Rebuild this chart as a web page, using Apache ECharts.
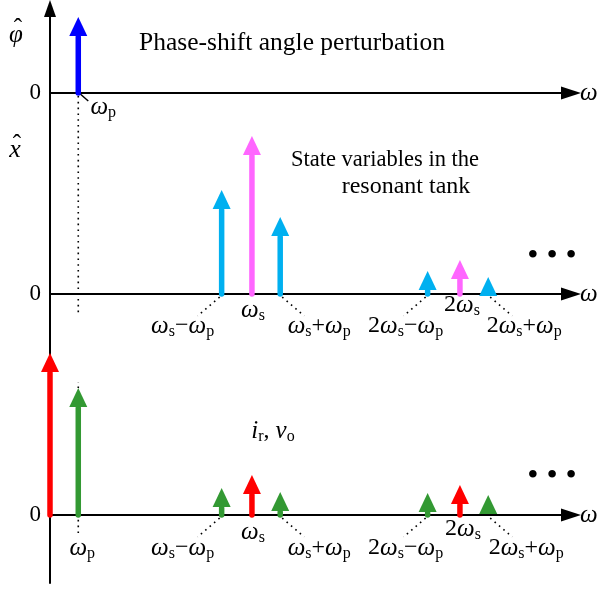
<!DOCTYPE html>
<html>
<head>
<meta charset="utf-8">
<script src="https://cdn.jsdelivr.net/npm/echarts@6/dist/echarts.min.js"></script>
<style>
html, body { margin: 0; padding: 0; background: #fff; }
#chart { width: 599px; height: 590px; }
</style>
</head>
<body>
<div id="chart"></div>
<script>
// spectral lines: x in units of the switching frequency, heights in arbitrary units
const phiFreq  = [0.14];
const phiAmp   = [7.6];
const phiKind  = ['phi'];
const phiLabel = ['ω_p'];

const tankFreq  = [0.85, 1.0, 1.14, 1.87, 2.03, 2.17];
const tankAmp   = [10.4, 15.8, 7.7, 2.3, 3.4, 1.7];
const tankKind  = ['side', 'main', 'side', 'side', 'main', 'side'];
const tankLabel = ['ω_s−ω_p', 'ω_s', 'ω_s+ω_p', '2ω_s−ω_p', '2ω_s', '2ω_s+ω_p'];

const outFreq  = [0, 0.14, 0.85, 1.0, 1.14, 1.87, 2.03, 2.17];
const outAmp   = [16.2, 12.7, 2.7, 4.0, 2.3, 2.2, 3.0, 2.0];
const outKind  = ['main', 'side', 'side', 'main', 'side', 'side', 'main', 'side'];
const outLabel = ['', 'ω_p', 'ω_s−ω_p', 'ω_s', 'ω_s+ω_p', '2ω_s−ω_p', '2ω_s', '2ω_s+ω_p'];

const SERIF = "'Liberation Serif', 'Times New Roman', serif";
const phiColors  = { phi: '#0000ff' };
const tankColors = { side: '#00b0f0', main: '#ff66ff' };
const outColors  = { main: '#ff0000', side: '#339933' };

// where each label sits relative to the foot of its line (px)
const phiPlace = [{ dx: 25, dy: 14, lead: ['tick', 'long'] }];
const tankPlace = [
  { dx: -39, dy: 32, lead: ['left'] },
  { dx: 1, dy: 16 },
  { dx: 39, dy: 32, lead: ['right'] },
  { dx: -22, dy: 32, lead: ['left'] },
  { dx: 2, dy: 11 },
  { dx: 36, dy: 32, lead: ['right'] }
];
const outPlace = [
  null,
  { dx: 4, dy: 33, lead: ['drop'] },
  { dx: -39, dy: 33, lead: ['left'] },
  { dx: 1, dy: 17 },
  { dx: 39, dy: 33, lead: ['right'] },
  { dx: -22, dy: 33, lead: ['left'] },
  { dx: 3, dy: 14 },
  { dx: 38, dy: 33, lead: ['right'] }
];

const RICH = {
  w: { fontFamily: SERIF, fontStyle: 'italic', fontSize: 25, lineHeight: 28, color: '#000' },
  n: { fontFamily: SERIF, fontSize: 24, lineHeight: 28, color: '#000' },
  s: { fontFamily: SERIF, fontSize: 16, lineHeight: 16, verticalAlign: 'bottom', color: '#000' }
};

// 'ω_s' -> rich text with an upright subscript
function toRich(str) {
  let out = '';
  for (let i = 0; i < str.length; i++) {
    const c = str[i];
    if (c === '_') { out += '{s|' + str[i + 1] + '}'; i++; }
    else if (c === 'ω' || c === 'i' || c === 'v') out += '{w|' + c + '}';
    else out += '{n|' + c + '}';
  }
  return out;
}

function makeRender(labels, places) {
  return function (params, api) {
    const i = params.dataIndex;
    const base = api.coord([api.value(0), 0]);
    const tip = api.coord([api.value(0), api.value(1)]);
    const color = api.visual('color');
    const kids = [];
    const dotted = { stroke: '#000', lineWidth: 1.6, lineDash: [1.6, 4.2], fill: null };
    const p = places[i];
    const seg = (x1, y1, x2, y2, style) => kids.push({
      type: 'line',
      shape: { x1: base[0] + x1, y1: base[1] + y1, x2: base[0] + x2, y2: base[1] + y2 },
      style: style
    });
    if (p && p.lead) {
      p.lead.forEach(function (l) {
        if (l === 'left') seg(-2, 3, -24, 22, dotted);
        if (l === 'right') seg(2, 3, 24, 22, dotted);
        if (l === 'tick') seg(2, 1, 10, 8, { stroke: '#000', lineWidth: 1.5 });
        if (l === 'long') seg(0, 3, 0, 220, dotted);
        if (l === 'drop') seg(0, 18, 0, tip[1] - base[1] - 6, dotted);
      });
    }
    const headH = 19, headW = 18;
    const neck = tip[1] + headH;
    if (neck < base[1]) {
      kids.push({
        type: 'line',
        shape: { x1: base[0], y1: base[1], x2: base[0], y2: neck + 1 },
        style: { stroke: color, lineWidth: 5.5, lineCap: 'round' }
      });
    }
    kids.push({
      type: 'polygon',
      shape: { points: [[tip[0], tip[1]], [tip[0] - headW / 2, neck], [tip[0] + headW / 2, neck]] },
      style: { fill: color }
    });
    if (p && labels[i]) {
      kids.push({
        type: 'text',
        x: base[0] + p.dx,
        y: base[1] + p.dy,
        style: { text: toRich(labels[i]), rich: RICH, align: 'center', verticalAlign: 'middle' }
      });
    }
    return { type: 'group', children: kids };
  };
}

function lineData(freq, amp, kind, colors) {
  return freq.map((f, i) => ({ value: [f, amp[i]], itemStyle: { color: colors[kind[i]] } }));
}

const grids = [
  { left: 50, top: 8.5, width: 521, height: 84.5 },
  { left: 50, top: 93, width: 521, height: 201 },
  { left: 50, top: 294, width: 521, height: 289 }
];
const yRange = [[0, 8.45, 8.45], [0, 20.1, 20.1], [-6.8, 22.1, 6.8]];

const myChart = echarts.init(document.getElementById('chart'), null, { renderer: 'canvas' });
const option = {
  animation: false,
  backgroundColor: '#fff',
  grid: grids.map(g => Object.assign({ outerBoundsMode: 'none', containLabel: false }, g)),
  xAxis: grids.map((g, k) => ({
    type: 'value',
    gridIndex: k,
    min: 0,
    max: 2.58,
    axisLine: {
      onZero: true,
      symbol: ['none', 'triangle'],
      symbolSize: [13, 20],
      lineStyle: { color: '#000', width: 2 }
    },
    axisTick: { show: false },
    axisLabel: { show: false },
    splitLine: { show: false },
    name: 'ω',
    nameLocation: 'end',
    nameGap: 9,
    nameTextStyle: { fontFamily: SERIF, fontStyle: 'italic', fontSize: 25, color: '#000', verticalAlign: 'middle' }
  })),
  yAxis: grids.map((g, k) => ({
    type: 'value',
    gridIndex: k,
    min: yRange[k][0],
    max: yRange[k][1],
    interval: yRange[k][2],
    axisLine: {
      show: true,
      symbol: k === 0 ? ['none', 'triangle'] : ['none', 'none'],
      symbolSize: [12, 17],
      lineStyle: { color: '#000', width: 2 }
    },
    axisTick: { show: false },
    splitLine: { show: false },
    axisLabel: {
      margin: 9,
      padding: [5, 0, 0, 0],
      fontFamily: SERIF,
      fontSize: 23,
      color: '#000',
      formatter: v => (Math.abs(v) < 1e-9 ? '0' : '')
    }
  })),
  series: [
    {
      type: 'custom', xAxisIndex: 0, yAxisIndex: 0,
      renderItem: makeRender(phiLabel, phiPlace),
      data: lineData(phiFreq, phiAmp, phiKind, phiColors)
    },
    {
      type: 'custom', xAxisIndex: 1, yAxisIndex: 1,
      renderItem: makeRender(tankLabel, tankPlace),
      data: lineData(tankFreq, tankAmp, tankKind, tankColors)
    },
    {
      type: 'custom', xAxisIndex: 2, yAxisIndex: 2,
      renderItem: makeRender(outLabel, outPlace),
      data: lineData(outFreq, outAmp, outKind, outColors)
    }
  ],
  graphic: [
    { type: 'text', x: 292, y: 43, style: { text: 'Phase-shift angle perturbation', font: "25.5px " + SERIF, fill: '#000', align: 'center', verticalAlign: 'middle' } },
    { type: 'text', x: 385, y: 160, style: { text: 'State variables in the', font: "22.5px " + SERIF, fill: '#000', align: 'center', verticalAlign: 'middle' } },
    { type: 'text', x: 406, y: 187, style: { text: 'resonant tank', font: "24px " + SERIF, fill: '#000', align: 'center', verticalAlign: 'middle' } },
    { type: 'text', x: 273, y: 431, style: { text: toRich('i_r, v_o'), rich: RICH, align: 'center', verticalAlign: 'middle' } },
    { type: 'text', x: 16, y: 35, style: { text: 'φ', font: "italic 25px " + SERIF, fill: '#000', align: 'center', verticalAlign: 'middle' } },
    { type: 'text', x: 18, y: 29, style: { text: 'ˆ', font: "25px " + SERIF, fill: '#000', align: 'center', verticalAlign: 'middle' } },
    { type: 'text', x: 15, y: 150, style: { text: 'x', font: "italic 26px " + SERIF, fill: '#000', align: 'center', verticalAlign: 'middle' } },
    { type: 'text', x: 17, y: 145, style: { text: 'ˆ', font: "25px " + SERIF, fill: '#000', align: 'center', verticalAlign: 'middle' } },
    { type: 'text', x: 552, y: 257, style: { text: '• • •', font: "32px " + SERIF, fill: '#000', align: 'center', verticalAlign: 'middle' } },
    { type: 'text', x: 552, y: 477, style: { text: '• • •', font: "32px " + SERIF, fill: '#000', align: 'center', verticalAlign: 'middle' } }
  ]
};
option && myChart.setOption(option);
</script>
</body>
</html>
